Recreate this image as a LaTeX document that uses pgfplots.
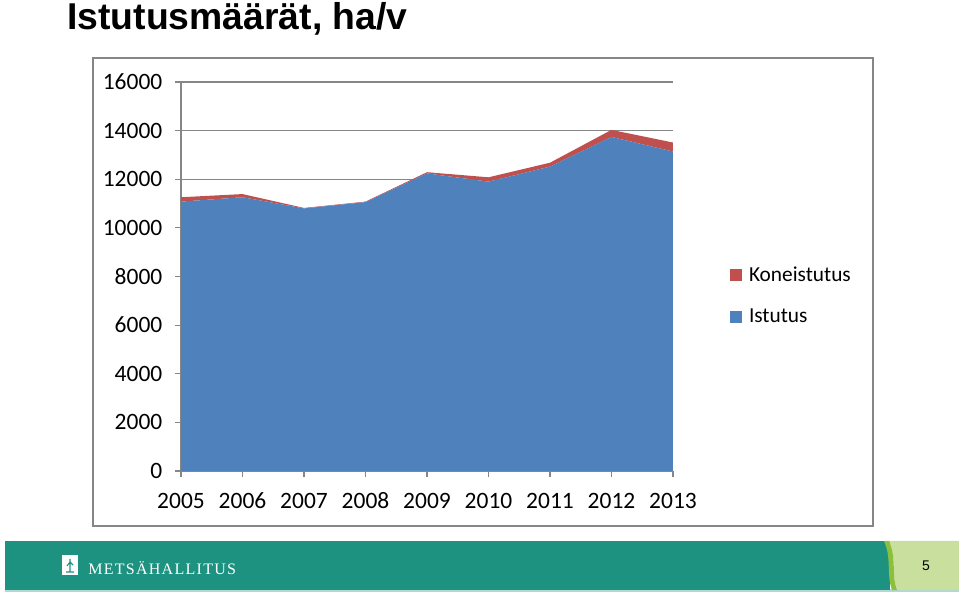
\documentclass[border=0pt]{standalone}
\usepackage{pgfplots}
\pgfplotsset{compat=1.18}
\usepackage{fontspec}
\setmainfont{Carlito}
\newfontfamily\arialfont{Liberation Sans}
\newfontfamily\logofont[LetterSpace=8]{Liberation Serif}
\definecolor{ablue}{RGB}{79,129,189}
\definecolor{ared}{RGB}{192,80,77}
\definecolor{mhteal}{RGB}{30,146,128}
\definecolor{lgreen}{RGB}{200,223,158}
\definecolor{leafg}{RGB}{140,192,60}
\definecolor{axgray}{RGB}{134,134,134}
\begin{document}
\begin{tikzpicture}[x=0.75pt,y=0.75pt]
\path[use as bounding box] (0,0) rectangle (959,599);
% title
\node[anchor=base west, inner sep=0pt, font=\arialfont\bfseries\fontsize{28}{30}\selectfont] at (67,569) {Istutusmäärät, ha/v};
% chart box
\draw[axgray, line width=1.1pt] (93,73) rectangle (873,541);
\begin{axis}[
  at={(135.75pt,96pt)}, anchor=south west,
  scale only axis, width=369pt, height=291.75pt,
  xmin=2005, xmax=2013, ymin=0, ymax=16000,
  xtick={2005,2006,2007,2008,2009,2010,2011,2012,2013},
  ytick={0,2000,4000,6000,8000,10000,12000,14000,16000},
  scaled y ticks=false,
  /pgf/number format/set thousands separator={},
  /pgf/number format/assume math mode=true,
  axis x line*=bottom, axis y line*=left,
  axis line style={axgray, line width=0.9pt, -},
  tick style={axgray, line width=0.9pt},
  tick align=outside, major tick length=4.5pt,
  ymajorgrids, grid style={axgray, line width=0.9pt},
  tick label style={font=\fontsize{17.6}{20}\selectfont, text=black},
  xticklabel style={anchor=north, text height=12pt, text depth=2pt, yshift=-8pt},
  yticklabel style={xshift=-6pt},
  stack plots=y,
  legend style={at={(1.116,0.450)}, anchor=west, draw=none, fill=none,
    font=\fontsize{16}{18}\selectfont, row sep=15pt, inner sep=0pt},
  legend cell align=left,
  reverse legend,
  legend image code/.code={\fill[#1] (0pt,-4.5pt) rectangle (9pt,4.5pt); \path (12pt,0pt);},
]
\addplot[fill=ablue, draw=none] coordinates {
(2005,11080) (2006,11260) (2007,10800) (2008,11060) (2009,12240)
(2010,11900) (2011,12520) (2012,13740) (2013,13140)} \closedcycle;
\addlegendentry{Istutus}
\addplot[fill=ared, draw=none] coordinates {
(2005,180) (2006,130) (2007,20) (2008,20) (2009,50)
(2010,180) (2011,160) (2012,290) (2013,370)} \closedcycle;
\addlegendentry{Koneistutus}
\end{axis}
% footer
\fill[mhteal!35] (5,7) rectangle (959,10);
\fill[mhteal] (5,9) rectangle (890,58);
\fill[lgreen] (889,58) .. controls (897,40) and (891,25) .. (897,9) -- (959,9) -- (959,58) -- cycle;
\fill[leafg] (884,58) .. controls (892,40) and (886,25) .. (892,9) -- (897,9) .. controls (891,25) and (897,40) .. (889,58) -- cycle;
\fill[white] (62,24) rectangle (78,44);
\draw[mhteal, line width=0.8pt] (66,27) -- (74,27) (70,27) -- (70,40) (67,33) -- (70,37) -- (73,34);
\node[anchor=base west, inner sep=0pt, text=white, font=\logofont\fontsize{12}{12}\selectfont] at (88,24) {METSÄHALLITUS};
\node[font=\arialfont\fontsize{10.5}{12}\selectfont] at (926,33) {5};
\end{tikzpicture}
\end{document}
